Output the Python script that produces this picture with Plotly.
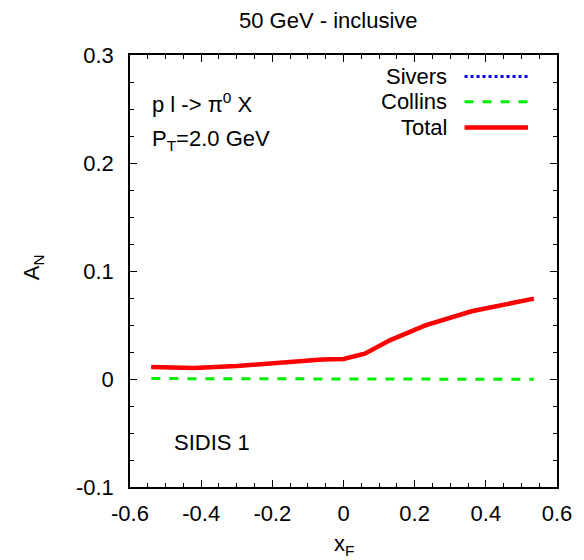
import plotly.graph_objects as go

# Data
xf = [-0.54, -0.42, -0.30, -0.18, -0.06, 0.0, 0.06, 0.13, 0.23, 0.36, 0.535]
total = [0.0111, 0.0102, 0.0120, 0.0152, 0.0180, 0.0185, 0.0235, 0.0358, 0.0497, 0.0627, 0.0744]
sivers = [0.0111, 0.0102, 0.0120, 0.0152, 0.0180, 0.0185, 0.0237, 0.0360, 0.0500, 0.0630, 0.0747]
collins = [0.0004, 0.0004, 0.0003, 0.0002, 0.0001, 0.0, -0.0002, -0.0003, -0.0003, -0.0003, -0.0003]

xticks = [-0.6, -0.4, -0.2, 0.0, 0.2, 0.4, 0.6]
xticklabels = ["-0.6", "-0.4", "-0.2", "0", "0.2", "0.4", "0.6"]
yticks = [-0.1, 0.0, 0.1, 0.2, 0.3]
yticklabels = ["-0.1", "0", "0.1", "0.2", "0.3"]

FONT = "Liberation Sans, Arial, sans-serif"
FS = 22

fig = go.Figure()
fig.add_trace(go.Scatter(x=xf, y=sivers, mode="lines", name="Sivers",
                         line=dict(color="#0000ff", width=3, dash="dot")))
fig.add_trace(go.Scatter(x=xf, y=collins, mode="lines", name="Collins",
                         line=dict(color="#00ee00", width=3, dash="dash")))
fig.add_trace(go.Scatter(x=xf, y=total, mode="lines", name="Total",
                         line=dict(color="#ff0000", width=4.5)))

axis_common = dict(showgrid=False, zeroline=False, showline=True, linecolor="black",
                   linewidth=1.5, mirror="allticks", ticks="inside", ticklen=7,
                   tickcolor="black", tickwidth=1,
                   tickfont=dict(family=FONT, size=FS, color="black"))

fig.update_xaxes(range=[-0.6, 0.6], tickvals=xticks, ticktext=xticklabels,
                 ticklabelstandoff=6,
                 minor=dict(dtick=0.05, ticks="inside", ticklen=4, tickcolor="black"),
                 **axis_common)
fig.update_yaxes(range=[-0.1, 0.3], tickvals=yticks, ticktext=yticklabels,
                 ticklabelstandoff=10,
                 minor=dict(dtick=0.025, ticks="inside", ticklen=4, tickcolor="black"),
                 **axis_common)

annots = [
    dict(text="50 GeV - inclusive", x=0.466, y=1.081, xanchor="center", yanchor="middle"),
    dict(text="x<sub>F</sub>", x=0.5, y=-0.134, xanchor="center", yanchor="middle"),
    dict(text="A<sub>N</sub>", x=-0.227, y=0.509, xanchor="center", yanchor="middle", textangle=-90),
    dict(text="p l -> π<sup>0</sup> X", x=0.0464, y=0.889, xanchor="left", yanchor="middle"),
    dict(text="P<sub>T</sub>=2.0 GeV", x=0.0464, y=0.803, xanchor="left", yanchor="middle"),
    dict(text="SIDIS 1", x=0.099, y=0.102, xanchor="left", yanchor="middle"),
    dict(text="Sivers", x=0.746, y=0.950, xanchor="right", yanchor="middle"),
    dict(text="Collins", x=0.746, y=0.892, xanchor="right", yanchor="middle"),
    dict(text="Total", x=0.746, y=0.832, xanchor="right", yanchor="middle"),
]
for a in annots:
    fig.add_annotation(xref="paper", yref="paper", showarrow=False,
                       font=dict(family=FONT, size=FS, color="black"), **a)

legend_lines = [(0.950, "#0000ff", 3, "dot"), (0.892, "#00ee00", 3, "dash"), (0.832, "#ff0000", 4.5, "solid")]
for yy, col, w, d in legend_lines:
    fig.add_shape(type="line", xref="paper", yref="paper", x0=0.7835, x1=0.932, y0=yy, y1=yy,
                  line=dict(color=col, width=w, dash=d))

fig.update_layout(width=584, height=560, showlegend=False,
                  margin=dict(l=130, r=23, t=55, b=73),
                  plot_bgcolor="white", paper_bgcolor="white",
                  font=dict(family=FONT, size=FS, color="black"))

fig.write_html("out.html")
